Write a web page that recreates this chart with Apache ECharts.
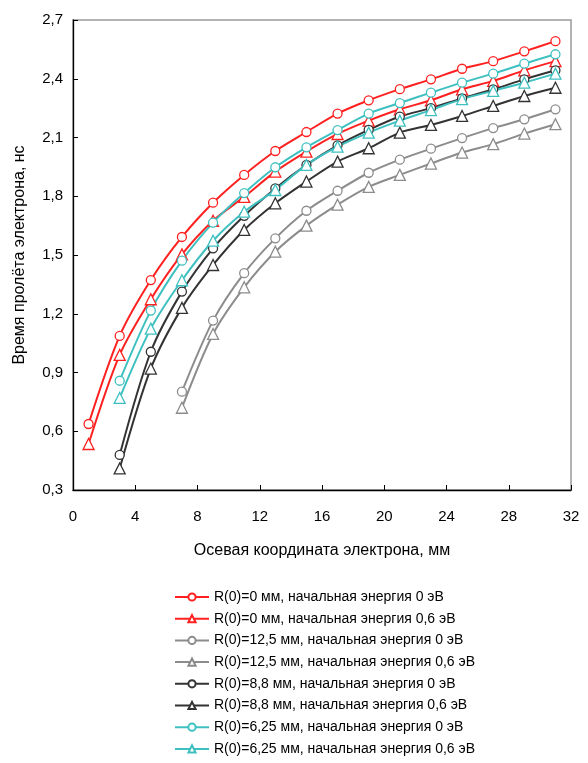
<html>
    <head>
        <meta charset="utf-8">
        <script src="https://cdn.jsdelivr.net/npm/echarts@6/dist/echarts.min.js"></script>
    </head>
    <body>
        <style>
            html, body, #main {
                width: 100%;
                height: 100%;
                margin: 0;
                background: #fff;
            }
        </style>
        <div id='main'></div>
        <script>
        // осевая координата, мм
        var xFrom1 = [1, 3, 5, 7, 9, 11, 13, 15, 17, 19, 21, 23, 25, 27, 29, 31];
        var xFrom3 = [3, 5, 7, 9, 11, 13, 15, 17, 19, 21, 23, 25, 27, 29, 31];
        var xFrom7 = [7, 9, 11, 13, 15, 17, 19, 21, 23, 25, 27, 29, 31];

        // время пролёта, нс
        var r0_e0   = [0.637, 1.087, 1.372, 1.592, 1.767, 1.909, 2.031, 2.128, 2.222, 2.290, 2.347, 2.397, 2.451, 2.490, 2.540, 2.592];
        var r0_e06  = [0.535, 0.990, 1.274, 1.503, 1.675, 1.797, 1.926, 2.028, 2.118, 2.186, 2.244, 2.290, 2.346, 2.389, 2.443, 2.490];
        var r125_e0  = [0.802, 1.165, 1.407, 1.585, 1.726, 1.828, 1.920, 1.987, 2.043, 2.097, 2.148, 2.193, 2.244];
        var r125_e06 = [0.720, 1.097, 1.335, 1.517, 1.650, 1.757, 1.848, 1.909, 1.967, 2.023, 2.066, 2.120, 2.168];
        var r88_e0   = [0.479, 1.006, 1.313, 1.534, 1.700, 1.840, 1.960, 2.060, 2.139, 2.207, 2.250, 2.300, 2.346, 2.397, 2.443];
        var r88_e06  = [0.410, 0.920, 1.230, 1.449, 1.628, 1.764, 1.875, 1.977, 2.045, 2.125, 2.164, 2.210, 2.261, 2.312, 2.354];
        var r625_e0  = [0.858, 1.216, 1.471, 1.665, 1.816, 1.948, 2.050, 2.138, 2.222, 2.276, 2.329, 2.380, 2.426, 2.477, 2.525];
        var r625_e06 = [0.770, 1.124, 1.371, 1.573, 1.721, 1.832, 1.960, 2.053, 2.125, 2.186, 2.240, 2.296, 2.338, 2.380, 2.426];

        var names = [
            'R(0)=0 мм, начальная энергия 0 эВ',
            'R(0)=0 мм, начальная энергия 0,6 эВ',
            'R(0)=12,5 мм, начальная энергия 0 эВ',
            'R(0)=12,5 мм, начальная энергия 0,6 эВ',
            'R(0)=8,8 мм, начальная энергия 0 эВ',
            'R(0)=8,8 мм, начальная энергия 0,6 эВ',
            'R(0)=6,25 мм, начальная энергия 0 эВ',
            'R(0)=6,25 мм, начальная энергия 0,6 эВ'
        ];

        function pairs(xs, ys) {
            var out = [];
            for (var i = 0; i < xs.length; i++) out.push([xs[i], ys[i]]);
            return out;
        }

        var RED = '#ff2020', GRAY = '#8c8c8c', BLACK = '#333333', CYAN = '#3ec0c0';

        function mk(name, xs, ys, color, sym) {
            return {
                name: name,
                type: 'line',
                smooth: 0.3,
                data: pairs(xs, ys),
                symbol: sym,
                symbolSize: sym == 'circle' ? 9 : 11,
                showAllSymbol: true,
                lineStyle: { color: color, width: 2 },
                itemStyle: { color: '#fff', borderColor: color, borderWidth: 1.3 }
            };
        }

        var fmt = function (v) { return String(Math.round(v * 10) / 10).replace('.', ','); };
        var FONT = 'Liberation Sans, Arial, sans-serif';

        var chart = echarts.init(document.getElementById('main'));
        var option = {
            animation: false,
            backgroundColor: '#fff',
            textStyle: { fontFamily: FONT },
            grid: {
                left: 73, right: 17, top: 20, bottom: 273,
                show: true, borderColor: '#9a9a9a', borderWidth: 1.5, backgroundColor: 'transparent'
            },
            legend: {
                orient: 'vertical',
                left: 169, top: 585, height: 180,
                itemWidth: 34, itemHeight: 9, itemGap: 7.7,
                textStyle: { fontSize: 14, color: '#000', fontFamily: FONT },
                data: names
            },
            xAxis: {
                type: 'value',
                min: 0, max: 32, interval: 4,
                name: 'Осевая координата электрона, мм',
                nameLocation: 'middle', nameGap: 53,
                nameTextStyle: { fontSize: 16, color: '#000' },
                axisLine: { onZero: false, lineStyle: { color: '#000', width: 1.3 } },
                axisTick: { inside: true, length: 5, lineStyle: { color: '#000' } },
                axisLabel: { fontSize: 15, color: '#000', margin: 19 },
                splitLine: { show: false }
            },
            yAxis: {
                type: 'value',
                min: 0.3, max: 2.7, interval: 0.3,
                name: 'Время пролёта электрона, нс',
                nameLocation: 'middle', nameGap: 45,
                nameTextStyle: { fontSize: 16, color: '#000' },
                axisLine: { show: true, onZero: false, lineStyle: { color: '#000', width: 1.3 } },
                axisTick: { show: true, inside: true, length: 5, lineStyle: { color: '#000' } },
                axisLabel: { fontSize: 15, color: '#000', margin: 10, formatter: fmt },
                splitLine: { show: false }
            },
            series: [
                mk(names[0], xFrom1, r0_e0, RED, 'circle'),
                mk(names[1], xFrom1, r0_e06, RED, 'triangle'),
                mk(names[2], xFrom7, r125_e0, GRAY, 'circle'),
                mk(names[3], xFrom7, r125_e06, GRAY, 'triangle'),
                mk(names[4], xFrom3, r88_e0, BLACK, 'circle'),
                mk(names[5], xFrom3, r88_e06, BLACK, 'triangle'),
                mk(names[6], xFrom3, r625_e0, CYAN, 'circle'),
                mk(names[7], xFrom3, r625_e06, CYAN, 'triangle')
            ]
        };
        chart.setOption(option);
        window.onresize = chart.resize;
        </script>
    </body>
</html>
